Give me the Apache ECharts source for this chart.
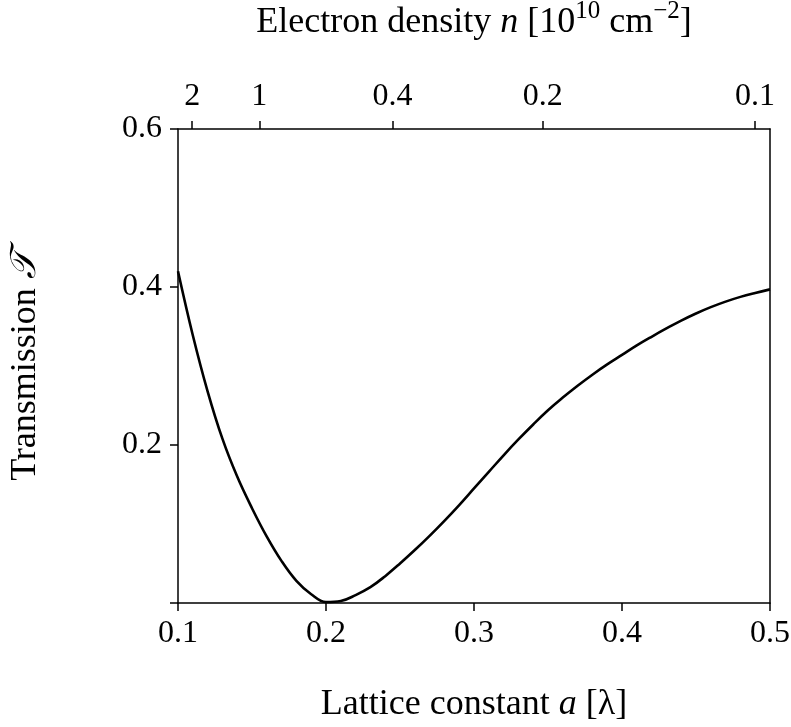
<!DOCTYPE html>
<html>
<head>
<meta charset="utf-8">
<script src="https://cdn.jsdelivr.net/npm/echarts@6/dist/echarts.min.js"></script>
<style>html,body{margin:0;padding:0;background:#fff;}#chart{width:791px;height:727px;}</style>
</head>
<body>
<div id="chart"></div>
<script>
// Lattice constant a [λ]
const latticeA = [0.10,0.11,0.12,0.13,0.14,0.15,0.16,0.17,0.18,0.19,0.20,0.21,0.22,0.23,0.24,0.25,0.26,0.27,0.28,0.29,0.30,0.31,0.32,0.33,0.34,0.35,0.36,0.37,0.38,0.39,0.40,0.41,0.42,0.43,0.44,0.45,0.46,0.47,0.48,0.49,0.50];
// Transmission T
const transmission = [0.420,0.339,0.268,0.208,0.160,0.120,0.084,0.053,0.028,0.011,0.0012,0.0025,0.010,0.020,0.034,0.050,0.067,0.085,0.104,0.124,0.145,0.166,0.187,0.207,0.226,0.244,0.260,0.275,0.289,0.302,0.314,0.326,0.337,0.3475,0.3575,0.3665,0.3745,0.3815,0.3875,0.3925,0.3970];
// Bottom axis ticks
const xTicks = [0.1,0.2,0.3,0.4,0.5];
// Left axis ticks (0 unlabeled)
const yTickLabels = ['', '0.2', '0.4', '0.6'];
// Top axis: electron density n [1e10 cm^-2], n = K / a^2
const densityTicks = [2, 1, 0.4, 0.2, 0.1];
const densityLabels = ['2', '1', '0.4', '0.2', '0.1'];
const densityConst = 0.024;

const densityPos = densityTicks.map(n => Math.sqrt(densityConst / n));

const FONT = 'Liberation Serif';
const chart = echarts.init(document.getElementById('chart'), null, {renderer: 'canvas'});

const axisLineStyle = {color: '#000', width: 1.5};
const tickStyle = {color: '#000', width: 1.5};

chart.setOption({
  backgroundColor: '#fff',
  animation: false,
  grid: {left: 178, right: 21, top: 129, bottom: 124, containLabel: false, outerBoundsMode: 'none'},
  xAxis: [
    {
      type: 'value', position: 'bottom', min: 0.1, max: 0.5, interval: 0.1,
      axisLine: {show: true, onZero: false, lineStyle: axisLineStyle},
      axisTick: {show: true, length: 8, inside: false, lineStyle: tickStyle},
      splitLine: {show: false},
      axisLabel: {
        color: '#000', fontFamily: FONT, fontSize: 32, margin: 15,
        formatter: v => { const i = xTicks.findIndex(t => Math.abs(t - v) < 1e-6); return i >= 0 ? String(xTicks[i]) : ''; }
      },
      name: '{t|Lattice constant }{i|a}{t| [λ]}',
      nameLocation: 'middle', nameGap: 84,
      nameTextStyle: {
        color: '#000', fontFamily: FONT, fontSize: 36,
        rich: {t: {fontFamily: FONT, fontSize: 36, color: '#000'}, i: {fontFamily: FONT, fontSize: 36, fontStyle: 'italic', color: '#000'}}
      }
    },
    {
      type: 'value', position: 'top', min: 0.1, max: 0.5,
      axisLine: {show: true, onZero: false, lineStyle: axisLineStyle},
      axisTick: {show: true, length: 8, inside: false, lineStyle: tickStyle, customValues: densityPos},
      splitLine: {show: false},
      axisLabel: {
        color: '#000', fontFamily: FONT, fontSize: 32, margin: 16,
        customValues: densityPos,
        formatter: v => {
          let best = 0, d = Infinity;
          densityPos.forEach((p, i) => { if (Math.abs(p - v) < d) { d = Math.abs(p - v); best = i; } });
          return densityLabels[best];
        }
      },
      name: '{t|Electron density }{i|n}{t| [10}{s|10}{t| cm}{s|−2}{t|]}',
      nameLocation: 'middle', nameGap: 88,
      nameTextStyle: {
        color: '#000', fontFamily: FONT, fontSize: 36,
        rich: {
          t: {fontFamily: FONT, fontSize: 36, color: '#000', verticalAlign: 'bottom', lineHeight: 42},
          i: {fontFamily: FONT, fontSize: 36, fontStyle: 'italic', color: '#000', verticalAlign: 'bottom', lineHeight: 42},
          s: {fontFamily: FONT, fontSize: 25, color: '#000', verticalAlign: 'top', lineHeight: 42}
        }
      }
    }
  ],
  yAxis: [
    {
      type: 'value', position: 'left', min: 0, max: 0.6, interval: 0.2,
      axisLine: {show: true, onZero: false, lineStyle: axisLineStyle},
      axisTick: {show: true, length: 8, inside: false, lineStyle: tickStyle},
      splitLine: {show: false},
      axisLabel: {
        color: '#000', fontFamily: FONT, fontSize: 32, margin: 16,
        formatter: v => { const i = Math.round(v / 0.2); return yTickLabels[i] || ''; }
      },
      name: '{t|Transmission }{c|𝒯}',
      nameLocation: 'middle', nameGap: 134, nameRotate: 90,
      nameTextStyle: {
        color: '#000', fontFamily: FONT, fontSize: 36,
        rich: {t: {fontFamily: FONT, fontSize: 36, color: '#000'}, c: {fontFamily: FONT + ', DejaVu Serif, DejaVu Sans', fontSize: 36, fontStyle: 'italic', color: '#000'}}
      }
    },
    {
      type: 'value', position: 'right', min: 0, max: 0.6,
      axisLine: {show: true, onZero: false, lineStyle: axisLineStyle},
      axisTick: {show: false}, axisLabel: {show: false}, splitLine: {show: false}
    }
  ],
  series: [{
    type: 'line',
    xAxisIndex: 0, yAxisIndex: 0,
    data: latticeA.map((a, i) => [a, transmission[i]]),
    showSymbol: false, smooth: 0.4, clip: true,
    lineStyle: {color: '#000', width: 2.6}
  }]
});
</script>
</body>
</html>
